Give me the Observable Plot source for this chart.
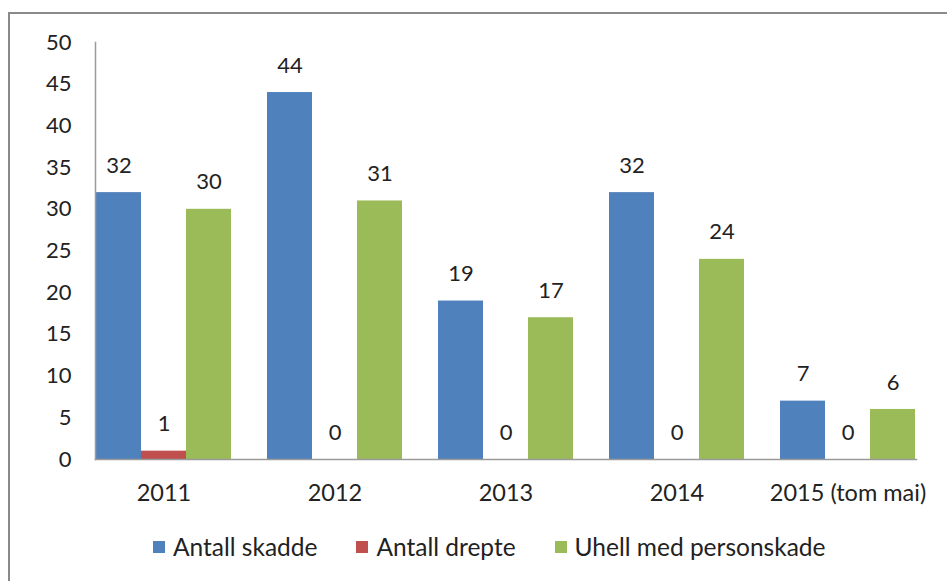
<!DOCTYPE html>
<html>
<head>
<meta charset="utf-8">
<script src="https://cdn.jsdelivr.net/npm/d3@7"></script>
<script src="https://cdn.jsdelivr.net/npm/@observablehq/plot@0.6"></script>
<style>
  html, body { margin: 0; padding: 0; background: #fff; }
  #wrap { position: relative; width: 947px; height: 581px; overflow: hidden; font-family: Lato, "Open Sans", sans-serif; }
  #frameTop { position: absolute; left: 9px; top: 12px; right: 0; height: 0; border-top: 2px solid #8a8a8a; }
  #frameLeft { position: absolute; left: 8px; top: 12px; bottom: 0; width: 0; border-left: 2px solid #8a8a8a; }
  #chart { position: absolute; left: 0; top: 0; }
  #legend { position: absolute; left: 153px; top: 532px; display: flex; align-items: center; font-size: 24.5px; color: #222; white-space: nowrap; }
  #legend .item { display: flex; align-items: center; margin-right: 39px; }
  #legend .sw { width: 12px; height: 12px; margin-right: 8px; }
</style>
</head>
<body>
<div id="wrap">
  <div id="frameTop"></div>
  <div id="frameLeft"></div>
  <div id="chart"></div>
  <div id="legend"></div>
</div>
<script>
const years = ["2011", "2012", "2013", "2014", "2015 (tom mai)"];
const seriesNames = ["Antall skadde", "Antall drepte", "Uhell med personskade"];
const antallSkadde = [32, 44, 19, 32, 7];
const antallDrepte = [1, 0, 0, 0, 0];
const uhellMedPersonskade = [30, 31, 17, 24, 6];
const seriesColors = ["#4F81BD", "#C0504D", "#9BBB59"];
const yTicks = [0, 5, 10, 15, 20, 25, 30, 35, 40, 45, 50];

const seriesValues = [antallSkadde, antallDrepte, uhellMedPersonskade];
const data = [];
years.forEach((yr, i) => {
  seriesNames.forEach((s, j) => {
    data.push({year: yr, series: s, value: seriesValues[j][i]});
  });
});

const chart = Plot.plot({
  width: 947,
  height: 520,
  marginLeft: 77,
  marginRight: 13,
  marginTop: 42,
  marginBottom: 61,
  style: {fontFamily: "Lato, 'Open Sans', sans-serif", fontSize: "22px", color: "#222", background: "transparent"},
  fx: {domain: years, paddingInner: 0.2, paddingOuter: 0.1, label: null},
  x: {domain: seriesNames, padding: 0, axis: null},
  y: {domain: [0, 50], label: null, ticks: yTicks},
  color: {domain: seriesNames, range: seriesColors},
  marks: [
    Plot.axisY({ticks: yTicks, tickSize: 0, tickPadding: 24, label: null, fontSize: 22, fill: "#222"}),
    Plot.axisFx({anchor: "bottom", tickSize: 0, tickPadding: 25, label: null, fontSize: 23.5, fill: "#222"}),
    Plot.barY(data, {fx: "year", x: "series", y: "value", fill: "series", inset: 0}),
    Plot.text(data, {fx: "year", x: "series", y: "value", text: d => String(d.value), dy: -27, fill: "#222", fontSize: 22}),
    Plot.frame({anchor: "bottom", stroke: "#9a9a9a", strokeWidth: 1.5, facet: "super"}),
    Plot.frame({anchor: "left", stroke: "#9a9a9a", strokeWidth: 1.5, facet: "super"})
  ]
});
document.getElementById("chart").appendChild(chart);

const legend = document.getElementById("legend");
seriesNames.forEach((s, j) => {
  const item = document.createElement("div");
  item.className = "item";
  const sw = document.createElement("div");
  sw.className = "sw";
  sw.style.background = seriesColors[j];
  const lab = document.createElement("span");
  lab.textContent = s;
  item.appendChild(sw);
  item.appendChild(lab);
  legend.appendChild(item);
});
</script>
</body>
</html>
